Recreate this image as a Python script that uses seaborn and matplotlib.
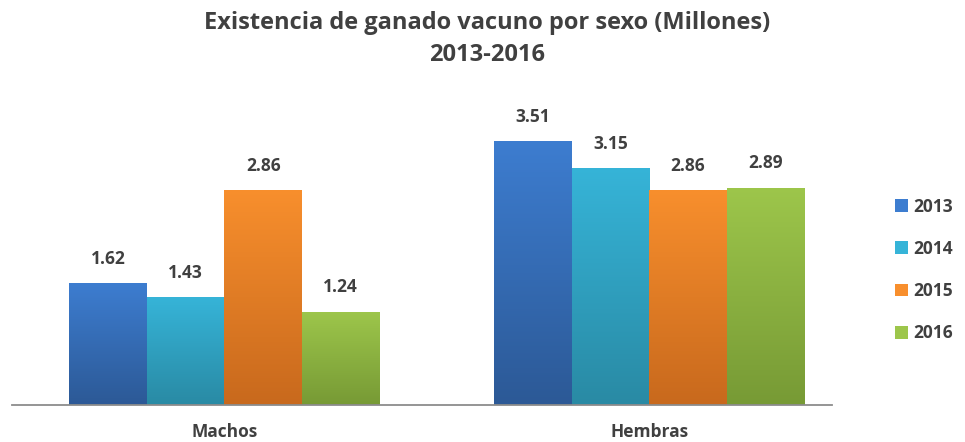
import numpy as np
import pandas as pd
import matplotlib
matplotlib.use("Agg")
import matplotlib.pyplot as plt
import matplotlib.colors as mcolors
from matplotlib.patches import Patch
import seaborn as sns

sexos = ["Machos", "Hembras"]
anios = ["2013", "2014", "2015", "2016"]
machos = [1.62, 1.43, 2.86, 1.24]
hembras = [3.51, 3.15, 2.86, 2.89]

colores_top = ["#3d7dd0", "#36b4d8", "#f88f2d", "#9dc64b"]
colores_bot = ["#2c5996", "#298aa4", "#c8691d", "#779a35"]

df = pd.DataFrame({
    "Sexo": [s for s in sexos for _ in anios],
    "Anio": anios * 2,
    "Valor": machos + hembras,
})

sns.set_theme(style="white")
plt.rcParams["font.family"] = ["Open Sans", "DejaVu Sans"]
texto = "#404040"

fig = plt.figure(figsize=(9.65, 4.42), dpi=100)
ax = fig.add_axes([12 / 965, 37 / 442, 820 / 965, 310 / 442])

sns.barplot(data=df, x="Sexo", y="Valor", hue="Anio", order=sexos, hue_order=anios,
            palette=colores_top, width=0.73, gap=0, ax=ax, legend=False,
            edgecolor="none", linewidth=0, saturation=1)

# gradient fill for each bar
for cont, ctop, cbot in zip(ax.containers, colores_top, colores_bot):
    cmap = mcolors.LinearSegmentedColormap.from_list("g", [cbot, ctop])
    grad = np.linspace(0, 1, 256).reshape(-1, 1)
    for bar in cont:
        x0, y0 = bar.get_x(), bar.get_y()
        w, h = bar.get_width(), bar.get_height()
        im = ax.imshow(grad, cmap=cmap, origin="lower", aspect="auto",
                       extent=[x0, x0 + w, y0, y0 + h], zorder=bar.get_zorder() + 0.1)
        im.set_clip_path(bar)
    ax.bar_label(cont, fmt="%.2f", padding=11, fontsize=12.5, fontweight="bold", color=texto)

ax.set_xlim(-0.5, 1.43)
ax.set_ylim(0, 4.12)

for s in ["top", "right", "left"]:
    ax.spines[s].set_visible(False)
ax.spines["bottom"].set_color("#8c8c8c")
ax.spines["bottom"].set_linewidth(1.3)
ax.set_yticks([])
ax.set_xlabel("")
ax.set_ylabel("")
ax.tick_params(axis="x", length=0, pad=13)
for lbl in ax.get_xticklabels():
    lbl.set_fontsize(12.5)
    lbl.set_fontweight("bold")
    lbl.set_color(texto)

fig.suptitle("Existencia de ganado vacuno por sexo (Millones)\n2013-2016",
             x=487 / 965, y=0.975, fontsize=17, fontweight="bold", color=texto,
             linespacing=1.45)

handles = [Patch(facecolor=c, edgecolor="none") for c in colores_top]
leg = fig.legend(handles, anios, loc="center left", bbox_to_anchor=(895 / 965, 172 / 442),
                 frameon=False, handlelength=0.75, handleheight=0.75, handletextpad=0.3,
                 labelspacing=1.4, borderpad=0, borderaxespad=0,
                 prop={"weight": "bold", "size": 12.5})
for t in leg.get_texts():
    t.set_color(texto)

fig.savefig("out.png", dpi=100)
